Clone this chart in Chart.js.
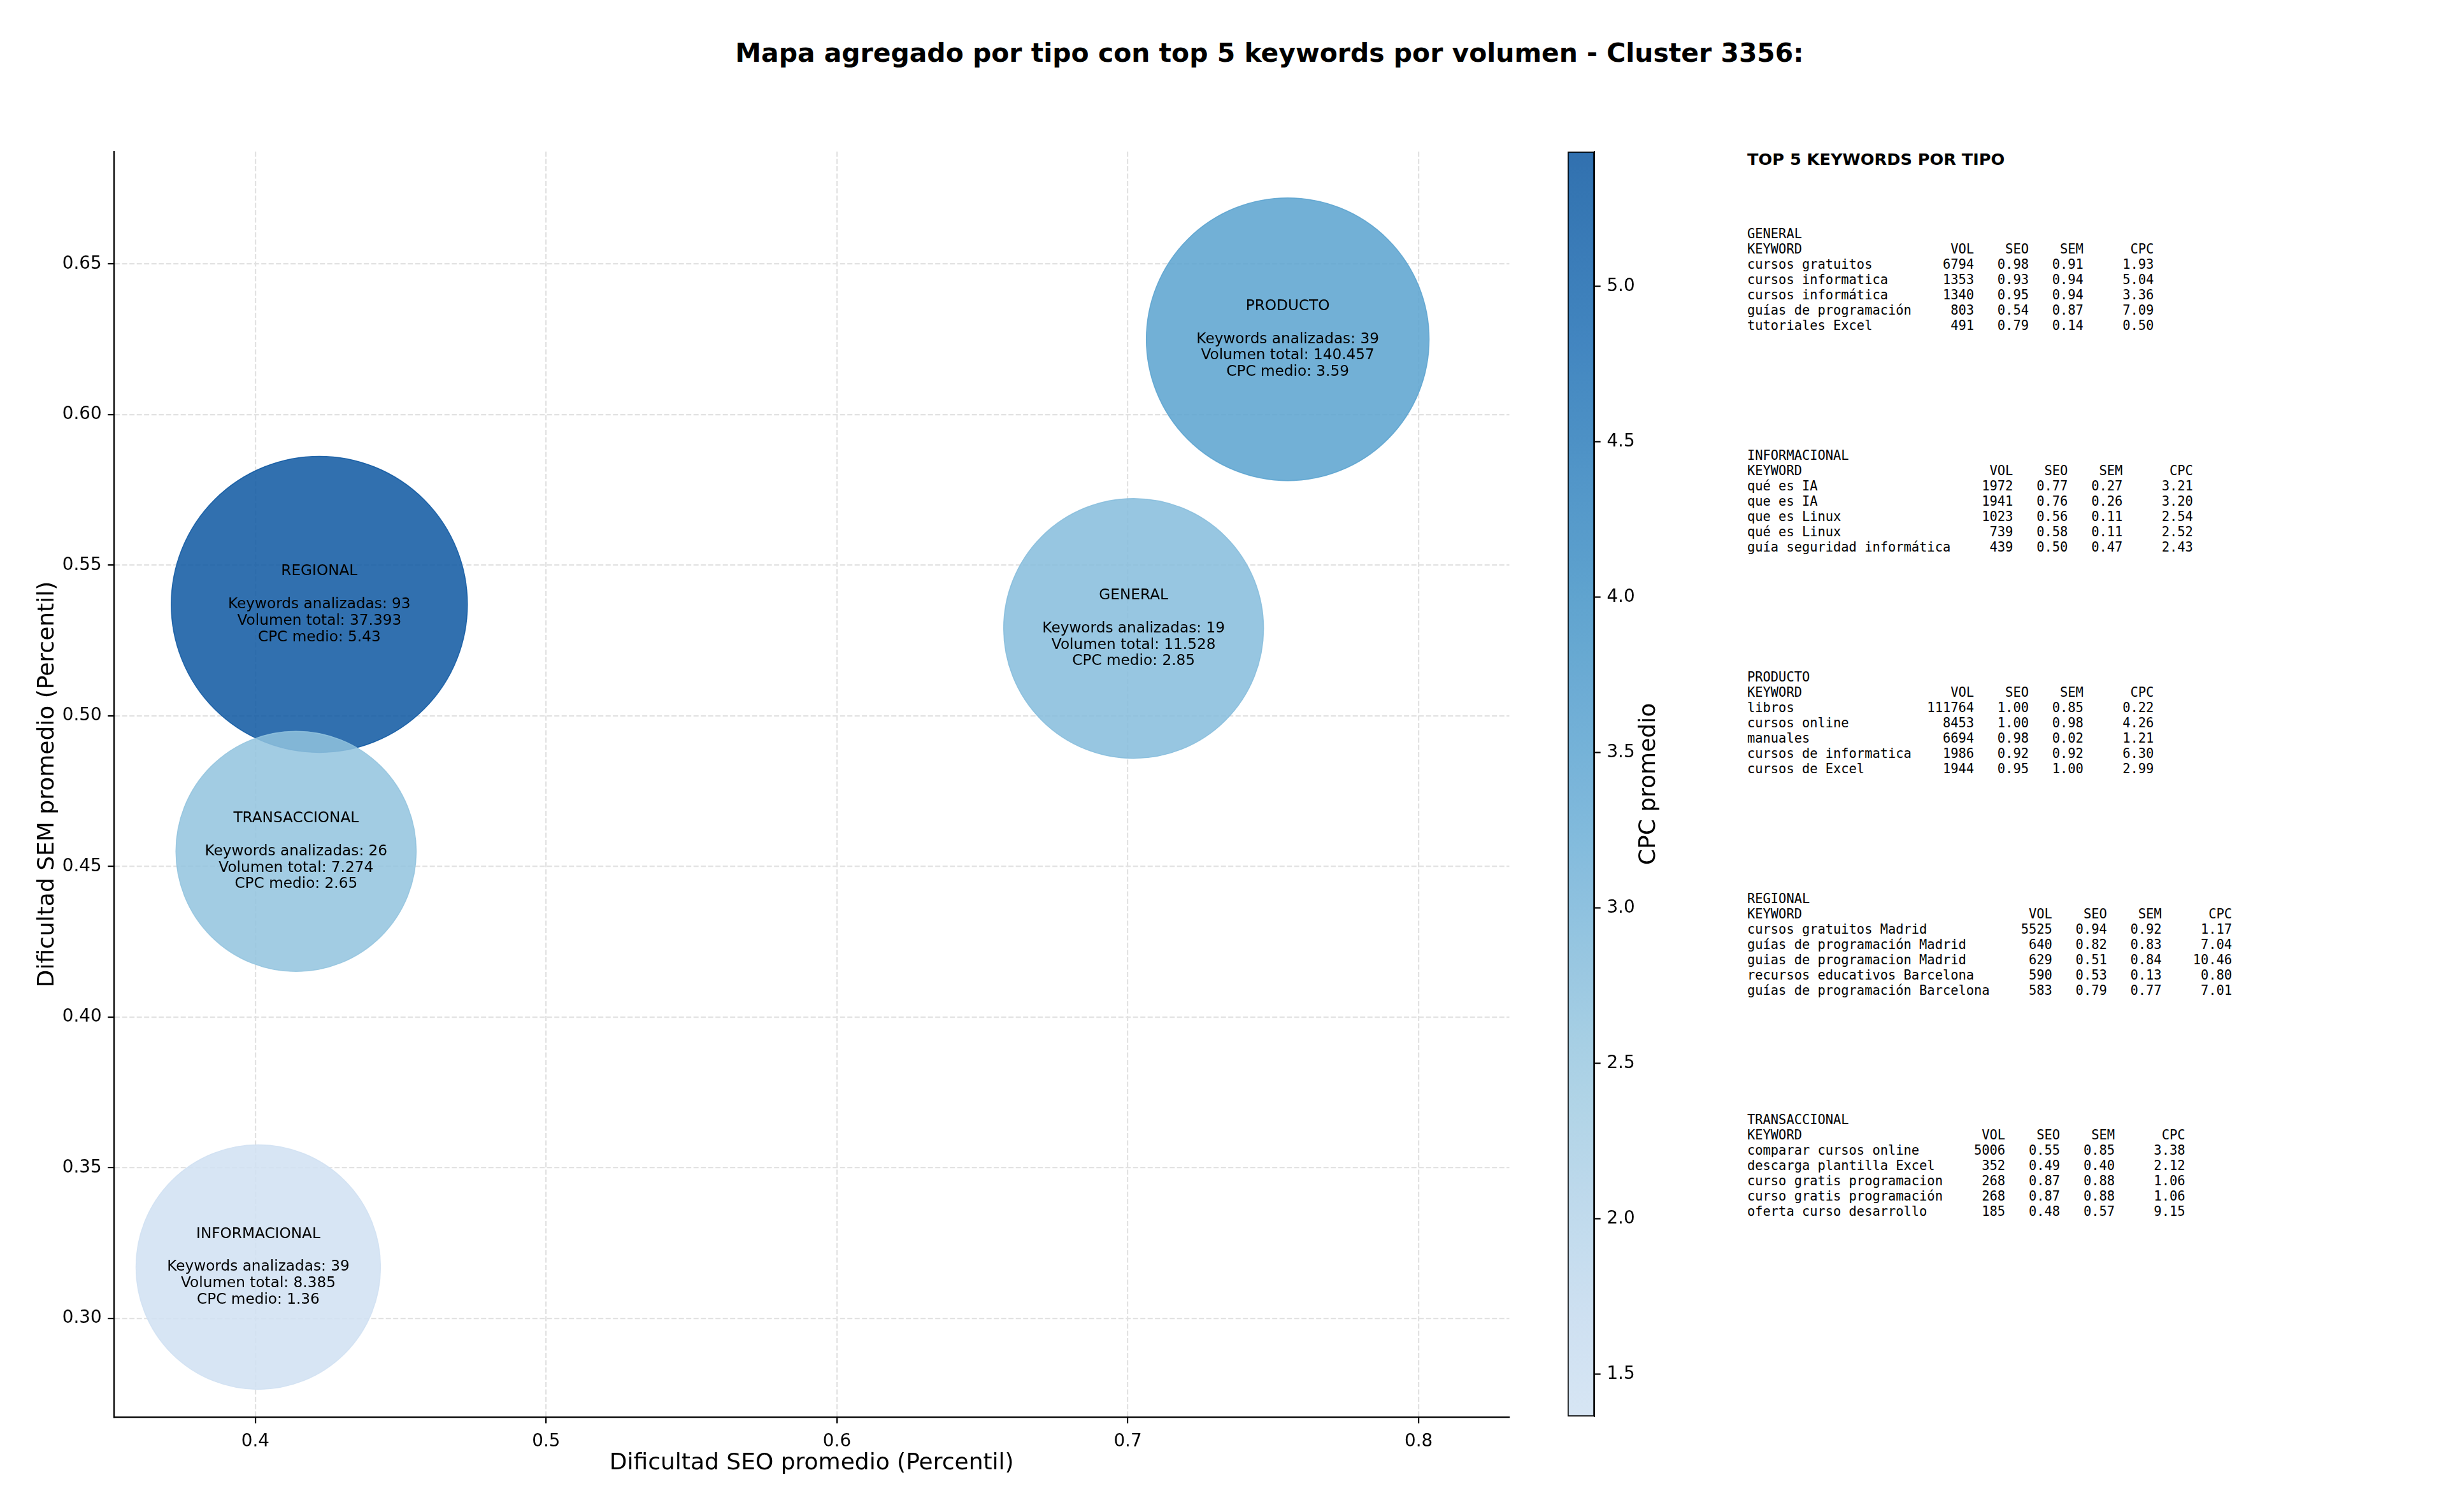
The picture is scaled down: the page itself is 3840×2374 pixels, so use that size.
<!DOCTYPE html>
<html>
<head>
<meta charset="utf-8">
<script src="https://cdn.jsdelivr.net/npm/chart.js@4.4.1/dist/chart.umd.min.js"></script>
<style>
  html, body { margin: 0; padding: 0; background: #fff; }
  body { width: 3840px; height: 2374px; position: relative; overflow: hidden; font-family: "DejaVu Sans", sans-serif; color: #000; }
  #titulo { position: absolute; left: 0; width: 3986px; top: 59px; text-align: center; font-weight: bold; font-size: 40.9px; line-height: 48px; }
  #main { position: absolute; left: 0; top: 0; }
  #cb { position: absolute; left: 2440px; top: 0; }
  #panelTitulo { position: absolute; left: 2743px; top: 235px; font-weight: bold; font-size: 25.6px; line-height: 30px; white-space: pre; }
  pre.bloque { position: absolute; left: 2743px; margin: 0; font-family: "DejaVu Sans Mono", monospace; font-size: 20.4px; line-height: 24px; }
</style>
</head>
<body>
<div id="titulo">Mapa agregado por tipo con top 5 keywords por volumen - Cluster 3356:</div>
<canvas id="main" width="2420" height="2374"></canvas>
<canvas id="cb" width="220" height="2374"></canvas>
<div id="panelTitulo">TOP 5 KEYWORDS POR TIPO</div>
<div id="panel"></div>
<script>
// --- datos agregados por tipo ---
const tipos = ["GENERAL", "INFORMACIONAL", "PRODUCTO", "REGIONAL", "TRANSACCIONAL"];
const seoPromedio = [0.702, 0.401, 0.755, 0.422, 0.414];
const semPromedio = [0.529, 0.317, 0.625, 0.537, 0.455];
const keywordsAnalizadas = [19, 39, 39, 93, 26];
const volumenTotal = [11528, 8385, 140457, 37393, 7274];
const cpcMedio = [2.85, 1.364, 3.59, 5.434, 2.65];
const tamanoBurbuja = [21570, 19100, 25540, 28020, 18440]; // area del marcador (pt^2)

// ticks de los ejes
const ticksX = [0.4, 0.5, 0.6, 0.7, 0.8];
const ticksY = [0.30, 0.35, 0.40, 0.45, 0.50, 0.55, 0.60, 0.65];
const ticksCPC = [1.5, 2.0, 2.5, 3.0, 3.5, 4.0, 4.5, 5.0];

// --- top 5 keywords: [keyword, vol, seo, sem, cpc] ---
const topGeneral = [
  ["cursos gratuitos", 6794, 0.98, 0.91, 1.93],
  ["cursos informatica", 1353, 0.93, 0.94, 5.04],
  ["cursos informática", 1340, 0.95, 0.94, 3.36],
  ["guías de programación", 803, 0.54, 0.87, 7.09],
  ["tutoriales Excel", 491, 0.79, 0.14, 0.50]
];
const topInformacional = [
  ["qué es IA", 1972, 0.77, 0.27, 3.21],
  ["que es IA", 1941, 0.76, 0.26, 3.20],
  ["que es Linux", 1023, 0.56, 0.11, 2.54],
  ["qué es Linux", 739, 0.58, 0.11, 2.52],
  ["guía seguridad informática", 439, 0.50, 0.47, 2.43]
];
const topProducto = [
  ["libros", 111764, 1.00, 0.85, 0.22],
  ["cursos online", 8453, 1.00, 0.98, 4.26],
  ["manuales", 6694, 0.98, 0.02, 1.21],
  ["cursos de informatica", 1986, 0.92, 0.92, 6.30],
  ["cursos de Excel", 1944, 0.95, 1.00, 2.99]
];
const topRegional = [
  ["cursos gratuitos Madrid", 5525, 0.94, 0.92, 1.17],
  ["guías de programación Madrid", 640, 0.82, 0.83, 7.04],
  ["guias de programacion Madrid", 629, 0.51, 0.84, 10.46],
  ["recursos educativos Barcelona", 590, 0.53, 0.13, 0.80],
  ["guías de programación Barcelona", 583, 0.79, 0.77, 7.01]
];
const topTransaccional = [
  ["comparar cursos online", 5006, 0.55, 0.85, 3.38],
  ["descarga plantilla Excel", 352, 0.49, 0.40, 2.12],
  ["curso gratis programacion", 268, 0.87, 0.88, 1.06],
  ["curso gratis programación", 268, 0.87, 0.88, 1.06],
  ["oferta curso desarrollo", 185, 0.48, 0.57, 9.15]
];

const PX_PT = 200 / 72;
const FONT = "'DejaVu Sans', sans-serif";
const cpcMin = Math.min(...cpcMedio);
const cpcMax = Math.max(...cpcMedio);

// colormap Blues (tramo 0.2 - 0.85)
const blues = [
  [0, [247, 251, 255]], [0.125, [222, 235, 247]], [0.25, [198, 219, 239]],
  [0.375, [158, 202, 225]], [0.5, [107, 174, 214]], [0.625, [66, 146, 198]],
  [0.75, [33, 113, 181]], [0.875, [8, 81, 156]], [1, [8, 48, 107]]
];
function colorCPC(v, alpha) {
  const t = (v - cpcMin) / (cpcMax - cpcMin);
  const u = 0.2 + 0.65 * Math.min(1, Math.max(0, t));
  let k = 0;
  while (k < blues.length - 2 && u > blues[k + 1][0]) k++;
  const [u0, c0] = blues[k], [u1, c1] = blues[k + 1];
  const f = (u - u0) / (u1 - u0);
  const c = c0.map((a, j) => Math.round(a + (c1[j] - a) * f));
  return "rgba(" + c[0] + "," + c[1] + "," + c[2] + "," + alpha + ")";
}

function fmtVol(v) {
  return String(v).replace(/\B(?=(\d{3})+(?!\d))/g, ".");
}

// etiquetas de texto dentro de cada burbuja
const etiquetasBurbujas = {
  id: "etiquetasBurbujas",
  afterDatasetsDraw(chart) {
    const ctx = chart.ctx;
    const meta = chart.getDatasetMeta(0);
    ctx.save();
    ctx.font = "23.2px " + FONT;
    ctx.fillStyle = "#000";
    ctx.textAlign = "center";
    ctx.textBaseline = "middle";
    meta.data.forEach((pt, i) => {
      const lineas = [
        tipos[i], "",
        "Keywords analizadas: " + keywordsAnalizadas[i],
        "Volumen total: " + fmtVol(volumenTotal[i]),
        "CPC medio: " + cpcMedio[i].toFixed(2)
      ];
      lineas.forEach((l, k) => ctx.fillText(l, pt.x, pt.y + (k - 2) * 25.8));
    });
    ctx.restore();
  }
};

const tickFont = { family: FONT, size: 27.8 };
const labelFont = { family: FONT, size: 36 };

new Chart(document.getElementById("main"), {
  type: "bubble",
  data: {
    datasets: [{
      data: tipos.map((t, i) => ({
        x: seoPromedio[i],
        y: semPromedio[i],
        r: Math.sqrt(tamanoBurbuja[i]) / 2 * PX_PT
      })),
      backgroundColor: cpcMedio.map(v => colorCPC(v, 0.85)),
      borderColor: cpcMedio.map(v => colorCPC(v, 0.85)),
      borderWidth: 1.5
    }]
  },
  options: {
    responsive: false,
    animation: false,
    events: [],
    layout: { autoPadding: false, padding: { left: 0, top: 238, right: 50.5, bottom: 0 } },
    plugins: { legend: { display: false }, tooltip: { enabled: false } },
    scales: {
      x: {
        type: "linear",
        min: 0.3514,
        max: 0.8312,
        afterBuildTicks: s => { s.ticks = ticksX.map(v => ({ value: v })); },
        afterFit: s => { s.height = 149; },
        ticks: { callback: v => v.toFixed(1), font: tickFont, color: "#000", padding: 12, maxRotation: 0 },
        grid: { color: "#e2e2e2", lineWidth: 2.2, tickLength: 9.7, tickColor: "#000", tickWidth: 2.2 },
        border: { display: true, color: "#000", width: 2.2, dash: [8, 3.5] },
        title: { display: true, text: "Dificultad SEO promedio (Percentil)", font: labelFont, color: "#000", padding: { top: 0, bottom: 55 } }
      },
      y: {
        type: "linear",
        min: 0.2672,
        max: 0.6873,
        afterBuildTicks: s => { s.ticks = ticksY.map(v => ({ value: v })); },
        afterFit: s => { s.width = 179; },
        ticks: { callback: v => v.toFixed(2), font: tickFont, color: "#000", padding: 9.7 },
        grid: { color: "#e2e2e2", lineWidth: 2.2, tickLength: 9.7, tickColor: "#000", tickWidth: 2.2 },
        border: { display: true, color: "#000", width: 2.2, dash: [8, 3.5] },
        title: { display: true, text: "Dificultad SEM promedio (Percentil)", font: labelFont, color: "#000", padding: { top: 53, bottom: 0 } }
      }
    }
  },
  plugins: [etiquetasBurbujas]
});

// --- barra de color ---
const etiquetaColorbar = {
  id: "etiquetaColorbar",
  afterDraw(chart) {
    const ctx = chart.ctx;
    const area = chart.chartArea;
    ctx.save();
    ctx.font = "36px " + FONT;
    ctx.fillStyle = "#000";
    ctx.textAlign = "center";
    ctx.textBaseline = "middle";
    ctx.translate(149, (area.top + area.bottom) / 2);
    ctx.rotate(-Math.PI / 2);
    ctx.fillText("CPC promedio", 0, 0);
    ctx.restore();
  }
};

new Chart(document.getElementById("cb"), {
  type: "bar",
  data: {
    labels: ["CPC"],
    datasets: [{
      data: [[cpcMin, cpcMax]],
      backgroundColor: c => {
        const chart = c.chart;
        if (!chart.chartArea) return "#fff";
        const y = chart.scales.y;
        const g = chart.ctx.createLinearGradient(0, y.getPixelForValue(cpcMin), 0, y.getPixelForValue(cpcMax));
        for (let i = 0; i <= 40; i++) {
          g.addColorStop(i / 40, colorCPC(cpcMin + (cpcMax - cpcMin) * i / 40, 0.85));
        }
        return g;
      },
      borderColor: "#000",
      borderWidth: 2,
      borderSkipped: false,
      barPercentage: 1,
      categoryPercentage: 1
    }]
  },
  options: {
    responsive: false,
    animation: false,
    events: [],
    layout: { autoPadding: false, padding: { left: 21, top: 238, right: 0, bottom: 150 } },
    plugins: { legend: { display: false }, tooltip: { enabled: false } },
    scales: {
      x: { display: false },
      y: {
        position: "right",
        min: cpcMin,
        max: cpcMax,
        afterBuildTicks: s => { s.ticks = ticksCPC.map(v => ({ value: v })); },
        afterFit: s => { s.width = 157; },
        ticks: { callback: v => v.toFixed(1), font: tickFont, color: "#000", padding: 9.7 },
        grid: { drawOnChartArea: false, tickLength: 9.7, tickColor: "#000", tickWidth: 2.2 },
        border: { display: true, color: "#000", width: 2 }
      }
    }
  },
  plugins: [etiquetaColorbar]
});

// --- panel de texto con las tablas ---
function tablaTexto(nombre, filas) {
  const w = Math.max(...filas.map(f => f[0].length));
  const lineas = [nombre,
    "KEYWORD".padEnd(w) + "VOL".padStart(8) + "SEO".padStart(7) + "SEM".padStart(7) + "CPC".padStart(9)];
  filas.forEach(f => {
    lineas.push(f[0].padEnd(w) + String(f[1]).padStart(8) + f[2].toFixed(2).padStart(7) +
      f[3].toFixed(2).padStart(7) + f[4].toFixed(2).padStart(9));
  });
  return lineas.join("\n");
}

const bloques = [
  ["GENERAL", topGeneral],
  ["INFORMACIONAL", topInformacional],
  ["PRODUCTO", topProducto],
  ["REGIONAL", topRegional],
  ["TRANSACCIONAL", topTransaccional]
];
const bloqueTop = [355, 703, 1051, 1399, 1746];
const panel = document.getElementById("panel");
bloques.forEach((b, i) => {
  const pre = document.createElement("pre");
  pre.className = "bloque";
  pre.style.top = bloqueTop[i] + "px";
  pre.textContent = tablaTexto(b[0], b[1]);
  panel.appendChild(pre);
});
</script>
</body>
</html>
